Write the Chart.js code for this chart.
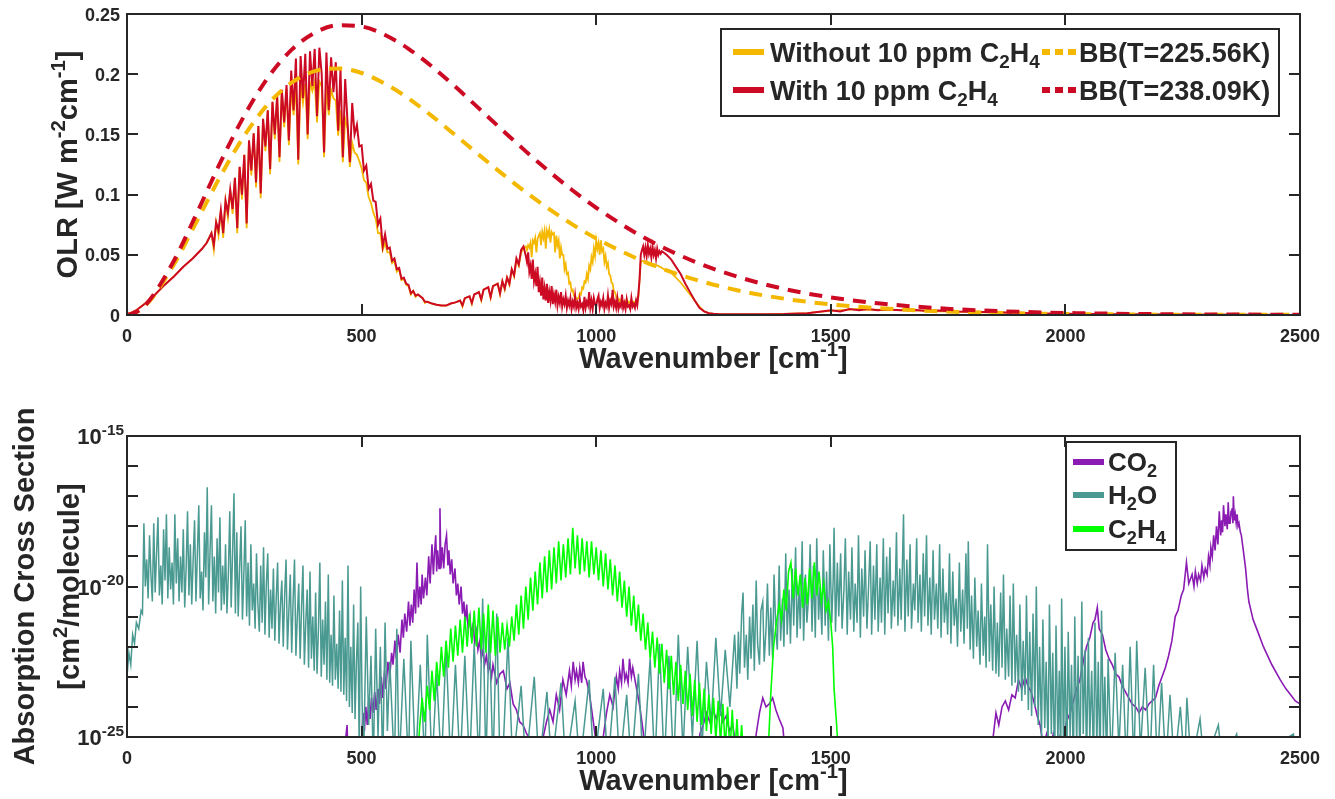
<!DOCTYPE html>
<html><head><meta charset="utf-8">
<script src="https://cdn.jsdelivr.net/npm/chart.js@4.4.1/dist/chart.umd.min.js"></script>
<style>
html,body{margin:0;padding:0;background:#fff;overflow:hidden}
#wrap{position:relative;width:1335px;height:799px;background:#fff}
canvas{position:absolute;left:0}
#c1{top:0}
#c2{top:400px}
</style></head><body>
<div id="wrap"><canvas id="c1" width="1335" height="400"></canvas><canvas id="c2" width="1335" height="399"></canvas></div>
<script>
// ---------------- DATA ----------------
const xTickValues = [0, 500, 1000, 1500, 2000, 2500];
const xTickLabels = ['0', '500', '1000', '1500', '2000', '2500'];
const olrTickValues = [0, 0.05, 0.1, 0.15, 0.2, 0.25];
const olrTickLabels = ['0', '0.05', '0.1', '0.15', '0.2', '0.25'];
const xsecDecades = [-25, -24, -23, -22, -21, -20, -19, -18, -17, -16, -15];
const xsecLabelExponents = [-25, -20, -15];

const topSeriesNames = ['Without 10 ppm C2H4', 'With 10 ppm C2H4', 'BB(T=225.56K)', 'BB(T=238.09K)'];
const bottomSeriesNames = ['CO2', 'H2O', 'C2H4'];

// Blackbody OLR: [wavenumber, BB 225.56 K, BB 238.09 K]
const blackbody = [
 [0,0,0],[25,.0034,.0036],[50,.0125,.0133],[100,.0419,.0451],[150,.0788,.0856],[200,.1159,.1275],
 [250,.1489,.1656],[300,.1749,.1970],[350,.1927,.2200],[400,.2025,.2344],[450,.2048,.2406],
 [500,.2010,.2396],[550,.1921,.2326],[600,.1799,.2211],[650,.1652,.2063],[700,.1493,.1895],
 [750,.1331,.1716],[800,.1172,.1536],[850,.1020,.1359],[900,.0879,.1191],[950,.0751,.1034],
 [1000,.0636,.0891],[1100,.0447,.0647],[1200,.0307,.0459],[1300,.0206,.0319],[1400,.0136,.0217],
 [1500,.0088,.0146],[1600,.0057,.0097],[1700,.0036,.0064],[1800,.0023,.0041],[1900,.0014,.0027],
 [2000,.0009,.0017],[2200,.0003,.0007],[2500,.0001,.0002]
];

// OLR spectra: [wavenumber, without C2H4, with C2H4]
const olrSpectra = [
 [0,0,0],[20,.004,.004],[40,.010,.010],[60,.017,.017],[80,.025,.025],[100,.032,.032],[120,.040,.040],
 [140,.047,.047],[160,.055,.055],[170,.060,.060],[175,.064,.064],[180,.068,.068],[185,.054,.058],
 [190,.077,.077],[195,.066,.070],[200,.087,.087],[205,.064,.068],[210,.095,.095],[215,.081,.085],
 [220,.104,.104],[225,.084,.088],[230,.114,.114],[235,.068,.072],[240,.123,.123],[245,.096,.100],
 [250,.133,.133],[255,.072,.076],[260,.145,.145],[265,.116,.120],[270,.151,.151],[275,.106,.110],
 [280,.157,.157],[285,.097,.101],[290,.163,.163],[295,.136,.140],[300,.170,.170],[305,.117,.121],
 [310,.177,.177],[315,.146,.150],[320,.182,.182],[325,.127,.131],[330,.186,.187],[335,.156,.160],
 [340,.188,.191],[345,.141,.145],[350,.189,.203],[355,.166,.170],[360,.191,.213],[365,.125,.129],
 [370,.192,.215],[375,.176,.180],[380,.192,.217],[385,.146,.150],[390,.193,.219],[395,.186,.190],
 [400,.194,.221],[405,.160,.165],[410,.194,.222],[415,.190,.200],[420,.131,.135],[425,.190,.218],
 [430,.166,.170],[435,.187,.214],[440,.180,.185],[445,.178,.210],[450,.149,.153],[455,.170,.204],
 [460,.127,.131],[465,.163,.196],[470,.155,.160],[475,.123,.127],[480,.143,.176],[485,.135,.150],
 [490,.133,.158],[495,.128,.140],[500,.122,.141],[505,.112,.120],[510,.110,.124],[515,.098,.105],
 [520,.093,.109],[525,.085,.095],[530,.080,.094],[535,.068,.075],[540,.068,.080],[545,.054,.057],
 [550,.060,.067],[555,.052,.055],[560,.052,.056],[565,.043,.045],[570,.045,.047],[575,.036,.038],
 [580,.038,.039],[585,.029,.030],[590,.030,.031],[595,.025,.026],[600,.024,.025],[605,.017,.018],
 [610,.020,.020],[615,.015,.016],[620,.017,.017],[630,.014,.014],[635,.010,.011],[640,.011,.011],
 [650,.0095,.0095],[660,.0085,.0085],[670,.0078,.0078],[680,.0078,.0078],[690,.0095,.0095],
 [700,.0105,.0105],[710,.012,.012],[715,.007,.008],[720,.014,.014],[730,.0155,.0155],[735,.009,.010],
 [740,.017,.017],[750,.019,.019],[755,.012,.013],[760,.021,.021],[770,.023,.023],[775,.014,.015],
 [780,.024,.024],[790,.026,.026],[795,.017,.018],[800,.028,.028],[805,.021,.022],[810,.031,.031],
 [815,.025,.026],[820,.038,.038],[825,.032,.033],[830,.046,.047],[835,.041,.042],[840,.052,.054],
 [845,.055,.057],
 [850,.057,.049],[852.5,.054,.044],[855,.058,.052],[857.5,.056,.036],[860,.060,.041],[862.5,.048,.030],
 [865,.062,.046],[867.5,.060,.028],[870,.064,.034],[872.5,.052,.024],[875,.063,.040],[877.5,.066,.019],
 [880,.068,.027],[882.5,.058,.016],[885,.069,.031],[887.5,.064,.013],[890,.070,.022],[892.5,.055,.012],
 [895,.070,.026],[897.5,.066,.010],[900,.071,.019],[902.5,.060,.012],[905,.069,.024],[907.5,.067,.009],
 [910,.068,.017],[912.5,.052,.011],[915,.066,.021],[917.5,.058,.008],[920,.062,.015],[922.5,.047,.010],
 [925,.056,.019],[927.5,.050,.007],[930,.050,.013],[932.5,.038,.009],[935,.042,.016],[937.5,.034,.006],
 [940,.035,.012],[942.5,.026,.008],[945,.027,.014],[947.5,.020,.005],[950,.021,.011],[952.5,.016,.007],
 [955,.016,.016],[957.5,.013,.006],[960,.014,.010],[962.5,.014,.005],[965,.018,.013],[967.5,.017,.007],
 [970,.023,.009],[972.5,.022,.004],[975,.028,.015],[977.5,.027,.006],[980,.034,.011],[982.5,.030,.008],
 [985,.041,.019],[987.5,.038,.006],[990,.048,.012],[992.5,.044,.005],[995,.055,.014],[997.5,.049,.009],
 [1000,.062,.007],[1002.5,.055,.013],[1005,.060,.016],[1007.5,.050,.006],[1010,.062,.011],[1012.5,.053,.008],
 [1015,.055,.014],[1017.5,.044,.005],[1020,.049,.010],[1022.5,.040,.007],[1025,.043,.016],[1027.5,.034,.006],
 [1030,.033,.012],[1032.5,.027,.009],[1035,.026,.021],[1037.5,.020,.007],[1040,.019,.011],[1042.5,.015,.006],
 [1045,.015,.014],[1047.5,.012,.005],[1050,.013,.009],[1052.5,.010,.007],[1055,.013,.017],[1057.5,.010,.006],
 [1060,.011,.010],[1062.5,.009,.005],[1065,.013,.013],[1067.5,.010,.007],[1070,.011,.008],[1072.5,.009,.005],
 [1075,.012,.014],[1077.5,.010,.007],[1080,.011,.009],[1082.5,.009,.006],[1085,.012,.012],[1087.5,.010,.008],
 [1090,.015,.018],[1092.5,.030,.030],[1095,.044,.050],[1097.5,.045,.054],[1100,.045,.057],[1102.5,.044,.050],
 [1105,.044,.056],[1107.5,.044,.049],[1110,.043,.058],[1112.5,.043,.051],[1115,.043,.055],[1117.5,.042,.048],
 [1120,.042,.057],[1122.5,.042,.050],[1125,.042,.054],[1127.5,.041,.047],[1130,.041,.055],[1132.5,.041,.050],
 [1135,.040,.053],[1137.5,.040,.051],[1140,.039,.053],
 [1150,.037,.050],[1160,.035,.046],[1170,.031,.040],[1180,.027,.034],[1190,.022,.026],[1200,.017,.019],
 [1210,.012,.012],[1220,.007,.006],[1230,.003,.003],[1240,.0015,.0015],[1250,.001,.001],
 [1260,.0008,.0008],[1300,.0006,.0006],[1350,.0006,.0006],[1400,.0009,.0008],[1450,.0016,.0015],
 [1480,.0028,.003],[1500,.0035,.004],[1520,.004,.003],[1540,.0045,.005],[1560,.005,.004],
 [1580,.0042,.005],[1600,.0045,.004],[1620,.004,.0045],[1650,.0042,.004],[1680,.0038,.0042],
 [1700,.0036,.0035],[1730,.003,.0038],[1760,.0028,.003],[1800,.0025,.0028],[1850,.002,.0022],
 [1900,.0016,.0018],[1950,.0012,.0012],[2000,.0009,.001],[2100,.0006,.0006],[2200,.0004,.0004],
 [2300,.0003,.0003],[2400,.0002,.0002],[2500,.0001,.0001]
];

// Absorption cross sections, [wavenumber, log10(cm^2/molecule)]
const co2LogXsec = [
 [460,-26],[469,-24.6],[472,-26],[495,-26],
 [500,-25.1],[503,-24.2],[506,-24.8],[509,-24.0],[512,-24.6],[515,-23.8],[518,-24.4],[521,-23.7],
 [524,-24.2],[528,-23.5],[531,-24.1],[535,-23.4],[538,-23.9],[542,-23.0],[545,-23.7],[549,-22.8],
 [552,-23.4],[556,-22.5],[560,-23.0],[564,-22.2],[567,-22.6],[571,-21.8],[574,-22.4],[578,-21.6],
 [582,-22.2],[586,-21.1],[589,-21.7],[592,-20.9],[596,-21.5],[600,-20.5],[603,-21.3],[606,-20.6],
 [609,-21.2],[612,-20.1],[615,-20.9],[618,-19.2],[621,-20.7],[624,-20.0],[627,-20.6],[629,-19.6],
 [632,-20.4],[636,-19.7],[639,-20.3],[643,-19.0],[646,-19.9],[650,-18.6],[653,-19.6],[655,-19.0],
 [658,-18.3],[660,-19.5],[662,-18.8],[665,-19.4],[667,-17.4],[669,-19.4],[672,-18.7],[675,-19.4],
 [678,-18.6],[681,-18.3],[684,-19.3],[686,-18.8],[689,-19.6],[692,-19.1],[695,-19.9],[699,-19.4],
 [702,-20.3],[705,-19.9],[708,-20.6],[712,-20.0],[715,-20.9],[718,-20.5],[721,-21.2],[724,-20.6],
 [727,-21.4],[731,-21.0],[734,-21.7],[738,-21.2],[741,-21.9],[745,-21.5],[748,-22.1],[752,-21.8],
 [755,-22.4],[759,-22.1],[762,-22.6],[766,-22.3],[770,-22.8],[773,-22.6],[777,-23.0],[780,-22.6],
 [788,-23.2],[795,-22.9],[802,-22.8],[810,-23.4],[816,-23.2],[823,-23.9],[830,-24.1],[837,-24.5],
 [844,-24.6],[852,-24.9],[865,-25.2],[880,-26],[887,-25.0],[894,-24.5],[901,-24.1],[908,-24.5],
 [915,-23.6],[922,-24.1],[929,-23.1],[936,-23.6],[943,-22.8],[947,-23.3],[951,-22.5],[955,-23.1],
 [958,-22.8],[962,-23.2],[965,-22.7],[969,-23.2],[972,-22.5],[976,-23.0],[979,-23.1],[986,-23.6],
 [993,-24.4],[1000,-25.2],[1007,-26],[1015,-25.0],[1022,-24.2],[1029,-23.6],[1036,-24.0],[1043,-23.0],
 [1047,-23.4],[1050,-22.8],[1054,-23.2],[1057,-22.4],[1061,-23.1],[1064,-22.9],[1068,-23.2],[1071,-22.4],
 [1075,-23.0],[1078,-22.7],[1085,-23.3],[1093,-24.0],[1100,-24.8],[1107,-26],[1215,-26],[1221,-24.9],
 [1228,-24.6],[1235,-24.2],[1242,-24.5],[1249,-24.1],[1256,-24.4],[1263,-24.0],[1270,-24.5],[1277,-24.3],
 [1284,-24.8],[1291,-24.6],[1298,-25.3],[1305,-26],[1335,-26],[1341,-24.9],[1348,-24.2],[1355,-23.7],
 [1362,-24.0],[1369,-23.9],[1376,-23.7],[1383,-24.1],[1390,-24.4],[1398,-24.7],[1405,-26],
 [1840,-26],[1846,-25.0],[1852,-24.2],[1858,-24.6],[1865,-24.0],[1872,-23.8],[1879,-24.1],[1886,-23.6],
 [1893,-23.7],[1900,-23.1],[1907,-23.4],[1914,-23.0],[1920,-23.3],[1927,-23.5],[1934,-23.9],
 [1940,-24.3],[1946,-24.6],[1953,-25.3],[1960,-24.9],[1967,-25.5],[1974,-24.9],[1981,-25.4],
 [1988,-25.0],[1995,-25.3],[2002,-24.5],[2010,-24.2],[2017,-23.8],[2024,-23.4],[2031,-23.1],
 [2038,-22.5],[2045,-22.0],[2052,-21.7],[2059,-21.2],[2063,-21.1],[2068,-20.7],[2072,-21.4],
 [2079,-21.6],[2086,-22.1],[2093,-22.4],[2100,-22.6],[2107,-22.9],[2114,-23.0],[2121,-23.3],
 [2128,-23.5],[2135,-23.7],[2142,-23.9],[2150,-24.0],[2157,-24.2],[2164,-24.0],[2171,-24.1],
 [2178,-23.9],[2185,-23.8],[2192,-23.7],[2199,-23.3],[2206,-23.0],[2213,-22.7],[2220,-22.3],
 [2227,-21.8],[2234,-21.0],[2240,-20.8],[2247,-20.3],[2252,-20.1],[2258,-19.2],[2263,-19.9],
 [2270,-19.6],[2274,-20.0],[2277,-19.5],[2281,-19.9],[2284,-19.6],[2288,-19.8],[2291,-19.3],
 [2295,-19.7],[2298,-19.4],[2302,-19.6],[2305,-19.0],[2308,-19.3],[2310,-18.7],[2313,-19.0],
 [2316,-18.3],[2319,-18.8],[2322,-18.0],[2325,-18.6],[2328,-17.5],[2331,-18.3],[2333,-17.8],
 [2335,-18.2],[2337,-17.3],[2340,-18.0],[2342,-17.6],[2345,-18.1],[2347,-17.2],[2349,-17.9],
 [2351,-17.9],[2353,-17.5],[2355,-17.4],[2357,-17.9],[2358,-17.0],[2360,-17.8],[2362,-17.6],
 [2364,-17.9],[2366,-17.6],[2368,-18.0],[2370,-17.9],[2373,-18.2],[2375,-18.3],[2380,-18.9],
 [2384,-19.4],[2388,-20.1],[2391,-20.5],[2400,-21.1],[2410,-21.5],[2422,-22.0],[2440,-22.6],
 [2458,-23.1],[2470,-23.4],[2480,-23.6],[2490,-23.8],[2500,-23.9]
];

const h2oLogXsec = [
 [0,-23.0],[4,-22.2],[8,-22.6],[12,-21.6],[16,-21.9],[20,-21.2],[25,-21.4],[30,-20.8],[33,-20.9],
 [36,-17.9],[39,-20.0],[42,-19.1],[45,-20.4],[48,-18.3],[51,-19.6],[54,-20.5],[57,-17.9],[60,-20.2],
 [63,-18.9],[66,-17.7],[69,-20.3],[72,-19.3],[75,-20.6],[78,-18.1],[81,-19.8],[84,-17.6],[87,-20.4],
 [90,-18.7],[93,-20.1],[96,-19.2],[99,-20.6],[102,-17.6],[105,-19.9],[108,-18.4],[111,-20.5],
 [114,-19.0],[117,-20.2],[120,-18.1],[123,-20.7],[126,-19.4],[129,-17.5],[132,-20.3],[135,-18.6],
 [138,-20.6],[141,-19.1],[144,-17.8],[147,-20.5],[150,-18.9],[153,-17.3],[156,-20.4],[159,-19.5],
 [162,-20.8],[165,-18.2],[168,-19.7],[171,-16.7],[174,-20.6],[177,-18.8],[180,-17.3],[183,-20.5],
 [186,-19.0],[189,-20.9],[192,-18.4],[195,-20.2],[198,-17.7],[201,-20.8],[204,-19.3],[207,-20.6],
 [210,-18.6],[213,-20.9],[216,-19.6],[219,-17.5],[222,-20.7],[225,-18.9],[228,-16.9],[231,-20.9],
 [234,-18.2],[237,-21.0],[240,-19.4],[243,-18.0],[246,-21.1],[249,-19.6],[252,-17.8],[255,-21.0],
 [258,-19.2],[261,-21.3],[264,-18.6],[267,-20.8],[270,-19.9],[273,-21.4],[276,-18.9],[279,-20.6],
 [282,-21.5],[285,-19.3],[288,-21.2],[291,-18.7],[294,-21.6],[297,-19.9],[300,-18.9],[303,-21.7],
 [306,-20.1],[309,-21.4],[312,-19.4],[315,-21.8],[318,-20.4],[321,-19.2],[324,-21.9],[327,-20.6],
 [330,-19.8],[333,-22.0],[336,-20.3],[339,-19.1],[342,-22.1],[345,-20.8],[348,-19.6],[351,-22.2],
 [354,-20.5],[357,-19.1],[360,-22.3],[363,-21.0],[366,-19.9],[369,-22.4],[372,-20.7],[375,-19.3],
 [378,-22.6],[381,-21.2],[384,-20.1],[387,-22.7],[390,-19.5],[393,-22.4],[396,-21.0],[399,-22.8],
 [402,-20.2],[405,-22.9],[408,-21.4],[411,-19.2],[414,-23.0],[417,-21.1],[420,-22.6],[423,-20.5],
 [426,-23.1],[429,-19.6],[432,-23.2],[435,-21.6],[438,-23.3],[441,-20.3],[444,-23.1],[447,-21.9],
 [450,-23.4],[453,-20.8],[456,-23.5],[459,-19.8],[462,-23.6],[465,-21.7],[468,-23.8],[471,-19.3],
 [474,-24.0],[477,-22.0],[480,-24.2],[483,-20.6],[486,-24.4],[489,-22.5],[492,-21.2],[495,-25.5],
 [498,-20.0],[501,-23.8],[504,-26],[510,-21.0],[515,-24.6],[520,-22.3],[525,-26],[530,-21.4],
 [535,-25.0],[540,-22.0],[545,-26],[550,-21.2],[555,-24.8],[560,-22.5],[570,-26],[575,-21.4],
 [580,-26],[590,-22.4],[600,-26],[605,-21.8],[615,-26],[625,-22.6],[635,-26],[640,-21.6],[650,-26],
 [660,-22.9],[670,-26],[680,-22.0],[690,-26],[700,-22.6],[710,-26],[720,-22.3],[730,-26],[740,-21.9],
 [750,-26],[758,-20.4],[765,-26],[772,-21.2],[780,-26],[788,-20.9],[795,-26],[800,-26],[812,-21.7],
 [822,-26],[840,-23.3],[850,-26],[868,-23.0],[878,-26],[895,-23.5],[905,-26],[925,-23.2],[935,-26],
 [955,-23.8],[965,-26],[985,-23.1],[995,-26],[1015,-23.4],[1025,-26],[1040,-23.0],[1050,-26],
 [1065,-23.6],[1075,-26],[1090,-22.9],[1100,-26],[1115,-22.4],[1125,-26],[1135,-21.9],[1145,-26],
 [1155,-22.3],[1165,-26],[1175,-21.6],[1185,-25.5],[1195,-22.0],[1205,-25.0],[1215,-21.8],
 [1225,-25.5],[1235,-22.5],[1245,-24.6],[1255,-21.7],[1265,-24.3],[1275,-22.1],[1285,-24.0],
 [1295,-21.6],
 [1300,-23.4],[1303,-21.5],[1306,-22.9],[1310,-20.9],[1313,-20.2],[1316,-22.7],[1320,-21.6],[1323,-23.1],
 [1327,-21.0],[1330,-22.4],[1334,-20.6],[1337,-22.8],[1341,-19.8],[1344,-21.9],[1348,-22.6],[1351,-20.8],
 [1355,-20.5],[1358,-22.5],[1362,-21.4],[1365,-19.9],[1369,-22.3],[1372,-20.7],[1376,-22.4],[1379,-19.6],
 [1383,-21.5],[1386,-22.1],[1390,-19.3],[1393,-21.8],[1397,-20.4],[1400,-22.0],[1404,-18.9],[1407,-21.6],
 [1411,-20.1],[1414,-21.9],[1418,-19.4],[1421,-21.3],[1425,-18.7],[1428,-21.7],[1432,-20.0],[1435,-21.4],
 [1439,-18.5],[1442,-21.8],[1446,-19.6],[1449,-21.2],[1453,-20.3],[1456,-18.6],[1460,-21.5],[1463,-19.3],
 [1467,-21.7],[1470,-18.4],[1474,-21.1],[1477,-20.0],[1481,-21.6],[1484,-18.8],[1488,-21.3],[1491,-19.5],
 [1495,-21.8],[1498,-18.6],[1502,-21.2],[1505,-19.8],[1507,-18.05],[1510,-21.5],[1514,-19.2],[1517,-21.0],
 [1521,-18.9],[1524,-21.4],[1528,-20.1],[1531,-18.4],[1535,-21.6],[1538,-19.5],[1542,-21.1],[1545,-18.7],
 [1549,-21.5],[1552,-19.9],[1556,-21.2],[1559,-18.3],[1563,-21.7],[1566,-19.4],[1570,-21.0],[1573,-18.8],
 [1577,-21.4],[1580,-20.2],[1584,-18.5],[1587,-21.6],[1591,-19.3],[1594,-21.1],[1598,-18.6],[1601,-21.5],
 [1605,-19.7],[1608,-21.2],[1612,-18.4],[1615,-21.6],[1619,-19.0],[1622,-20.9],[1626,-18.7],[1629,-21.4],
 [1633,-19.8],[1636,-21.0],[1640,-18.2],[1643,-21.3],[1647,-19.4],[1650,-21.1],[1655,-17.6],[1658,-21.5],
 [1662,-19.1],[1665,-21.0],[1669,-18.6],[1672,-21.4],[1676,-19.9],[1679,-20.8],[1683,-18.4],[1686,-21.2],
 [1690,-19.6],[1693,-21.5],[1697,-18.9],[1700,-21.0],[1704,-18.3],[1707,-21.3],[1711,-19.7],[1714,-21.6],
 [1718,-18.8],[1721,-21.1],[1725,-19.9],[1728,-21.4],[1732,-18.6],[1735,-21.7],[1739,-19.4],[1742,-21.2],
 [1746,-20.2],[1749,-21.6],[1753,-18.9],[1756,-21.9],[1760,-19.5],[1763,-21.3],[1767,-20.4],[1770,-22.0],
 [1774,-19.2],[1777,-21.5],[1781,-20.1],[1784,-21.9],[1788,-18.9],[1791,-21.4],[1793,-18.5],[1797,-22.1],
 [1800,-20.3],[1804,-22.4],[1807,-19.7],[1811,-22.0],[1814,-20.8],[1818,-22.6],[1821,-19.9],[1825,-22.3],
 [1828,-21.0],[1831,-22.7],[1834,-18.6],[1838,-22.5],[1841,-20.6],[1845,-22.8],[1848,-20.0],[1852,-22.9],
 [1855,-21.2],[1858,-23.0],[1862,-20.2],[1865,-22.7],[1868,-19.6],[1872,-23.1],[1875,-21.4],[1879,-23.0],
 [1882,-20.3],[1886,-23.3],[1889,-19.9],[1893,-23.2],[1896,-21.6],[1900,-23.5],[1903,-20.6],[1907,-23.8],
 [1910,-21.8],[1914,-23.6],[1917,-20.3],[1921,-24.1],[1924,-21.5],[1928,-24.3],[1931,-20.9],[1935,-24.0],
 [1938,-20.0],[1942,-24.6],[1945,-22.0],[1949,-25.0],[1952,-21.1],[1956,-24.7],[1959,-22.5],[1963,-25.4],
 [1966,-20.6],[1970,-24.9],[1973,-22.2],[1977,-26],[1980,-21.3],[1984,-25.2],[1987,-22.8],[1990,-26],
 [1992,-20.4],[1996,-25.5],[1999,-22.0],[2003,-26],[2006,-21.5],[2010,-25.0],[2013,-22.6],[2017,-26],
 [2020,-21.0],[2024,-25.3],[2027,-22.3],[2031,-26],[2035,-20.5],[2038,-24.9],[2042,-22.1],[2045,-26],
 [2049,-21.7],[2052,-25.1],[2056,-22.8],[2060,-26],[2063,-21.2],[2067,-25.4],[2070,-22.5],[2074,-26],
 [2077,-20.8],[2081,-25.0],[2084,-23.0],[2088,-26],[2091,-22.4],
 [2098,-26],[2106,-22.2],[2114,-25.4],[2122,-22.6],[2130,-26],[2138,-22.0],[2146,-26],
 [2152,-21.8],[2160,-25.5],[2170,-22.7],[2180,-26],[2188,-22.6],[2196,-26],[2205,-23.2],[2214,-26],
 [2223,-23.6],[2232,-26],[2245,-24.0],[2254,-26],[2259,-23.7],[2268,-26],[2287,-24.4],[2296,-26],
 [2326,-24.6],[2335,-26],[2365,-24.9],[2374,-26],[2486,-24.9],[2494,-26],[2500,-26]
];

const c2h4LogXsec = [
 [618,-26],[624,-24.6],[629,-23.7],[634,-24.5],[640,-23.3],[645,-24.1],[650,-22.8],[655,-23.8],
 [660,-22.5],[665,-23.3],[670,-22.0],[675,-23.0],[680,-21.8],[685,-22.7],[690,-21.4],[695,-22.5],
 [700,-21.3],[705,-22.3],[710,-21.1],[715,-22.2],[720,-21.0],[725,-22.0],[730,-20.9],[735,-21.9],
 [740,-20.8],[745,-22.0],[750,-20.7],[755,-22.1],[760,-20.9],[765,-22.2],[770,-20.6],[775,-22.2],
 [780,-20.8],[785,-22.3],[790,-21.0],[795,-22.2],[800,-21.2],[805,-22.1],[810,-21.3],[815,-22.0],
 [820,-21.0],[825,-21.8],[830,-20.6],[835,-21.6],[840,-20.3],[845,-21.4],[850,-20.0],[855,-21.1],
 [860,-19.7],[865,-20.8],[870,-19.5],[875,-20.6],[880,-19.2],[885,-20.4],[890,-19.0],[895,-20.2],
 [900,-18.8],[905,-20.1],[910,-18.7],[915,-19.9],[920,-18.5],[925,-19.8],[930,-18.6],[935,-19.7],
 [940,-18.4],[945,-19.6],[950,-18.05],[955,-19.4],[960,-18.3],[965,-19.6],[970,-18.4],[975,-19.5],
 [980,-18.5],[985,-19.7],[990,-18.5],[995,-19.6],[1000,-18.7],[1005,-19.8],[1010,-18.8],[1015,-20.0],
 [1020,-18.9],[1025,-20.1],[1030,-19.1],[1035,-20.3],[1040,-19.3],[1045,-20.5],[1050,-19.5],
 [1055,-20.7],[1060,-19.8],[1065,-21.0],[1070,-20.0],[1075,-21.3],[1080,-20.3],[1085,-21.5],
 [1090,-20.6],[1095,-21.8],[1100,-20.9],[1105,-22.1],[1110,-21.2],[1115,-22.4],[1120,-21.5],
 [1125,-22.7],[1130,-21.7],[1135,-22.9],[1140,-21.9],[1145,-23.2],[1150,-22.1],[1155,-23.4],
 [1160,-22.3],[1165,-23.6],[1170,-22.5],[1175,-23.8],[1180,-22.6],[1185,-23.9],[1190,-22.8],
 [1195,-24.1],[1200,-22.9],[1205,-24.3],[1210,-23.1],[1215,-24.5],[1220,-23.2],[1225,-24.6],
 [1230,-23.4],[1235,-24.8],[1240,-23.6],[1245,-24.9],[1250,-23.7],[1255,-25.1],[1260,-23.8],
 [1265,-25.2],[1270,-23.9],[1275,-25.4],[1280,-24.0],[1285,-25.5],[1290,-24.1],[1295,-25.7],
 [1300,-24.4],[1305,-25.8],[1310,-24.6],[1315,-26],[1320,-25.0],[1325,-26],[1365,-26],
 [1372,-23.6],[1378,-22.0],[1384,-21.2],[1390,-20.6],[1395,-21.1],[1400,-20.1],[1405,-20.8],
 [1410,-19.5],[1415,-19.2],[1420,-20.4],[1425,-19.4],[1430,-20.3],[1435,-19.6],[1440,-20.7],
 [1445,-19.7],[1450,-20.6],[1455,-19.4],[1460,-20.4],[1465,-19.2],[1470,-20.3],[1475,-19.5],
 [1480,-20.5],[1485,-19.9],[1490,-20.8],[1495,-20.5],[1500,-21.2],[1504,-22.0],[1507,-23.4],
 [1512,-24.5],[1518,-26]
];

// ---------------- STYLE / HELPERS ----------------
const INK = '#262626';
const YELLOW = '#F4B800', RED = '#CC0A24', PURPLE = '#8A1BB3', TEAL = '#4A9A92', GREEN = '#00FF00';
const FAM = '"Liberation Sans", Arimo, Arial, Helvetica, sans-serif';
const font = s => `bold ${s}px ${FAM}`;

function richWidth(ctx, segs, size) {
  let w = 0;
  for (const [t, k] of segs) { ctx.font = font(k ? size * 0.7 : size); w += ctx.measureText(t).width; }
  return w;
}
function drawRich(ctx, segs, x, y, size, align) {
  const w = richWidth(ctx, segs, size);
  let cx = align === 'center' ? x - w / 2 : align === 'right' ? x - w : x;
  ctx.textAlign = 'left'; ctx.textBaseline = 'alphabetic';
  for (const [t, k] of segs) {
    const s = k ? size * 0.7 : size;
    ctx.font = font(s);
    const dy = k === '^' ? -size * 0.42 : k === '_' ? size * 0.24 : 0;
    ctx.fillText(t, cx, y + dy);
    cx += ctx.measureText(t).width;
  }
}

const matlabAxes = {
  id: 'matlabAxes',
  afterDatasetsDraw(chart, args, o) {
    const ctx = chart.ctx, a = chart.chartArea;
    const xs = chart.scales.x, ys = chart.scales.y;
    const TL = 11;
    ctx.save();
    ctx.strokeStyle = INK; ctx.fillStyle = INK; ctx.lineWidth = 2; ctx.lineCap = 'butt';
    ctx.beginPath();
    for (const v of o.xTicks) {
      const px = Math.round(xs.getPixelForValue(v));
      ctx.moveTo(px, a.bottom); ctx.lineTo(px, a.bottom - TL);
      ctx.moveTo(px, a.top); ctx.lineTo(px, a.top + TL);
    }
    for (const v of o.yTicks) {
      const py = Math.round(ys.getPixelForValue(v));
      ctx.moveTo(a.left, py); ctx.lineTo(a.left + TL, py);
      ctx.moveTo(a.right, py); ctx.lineTo(a.right - TL, py);
    }
    ctx.stroke();
    ctx.strokeRect(a.left, a.top, a.right - a.left, a.bottom - a.top);

    o.xTicks.forEach((v, i) => {
      drawRich(ctx, [[o.xLabels[i], '']], xs.getPixelForValue(v), a.bottom + 27, 18, 'center');
    });
    o.yLabelTicks.forEach((v, i) => {
      drawRich(ctx, o.yLabels[i], o.yLabelRight, ys.getPixelForValue(v) + o.yLabelDy, o.yLabelSize, 'right');
    });
    drawRich(ctx, o.xTitle, (a.left + a.right) / 2, a.bottom + 53, 29, 'center');
    const cy = (a.top + a.bottom) / 2;
    o.yTitle.forEach((segs, i) => {
      ctx.save();
      ctx.translate(o.yTitleX[i], cy);
      ctx.rotate(-Math.PI / 2);
      drawRich(ctx, segs, 0, 0, 29, 'center');
      ctx.restore();
    });
    const L = o.legend;
    ctx.fillStyle = '#fff';
    ctx.fillRect(L.box[0], L.box[1], L.box[2], L.box[3]);
    ctx.lineWidth = 2; ctx.strokeStyle = INK;
    ctx.strokeRect(L.box[0], L.box[1], L.box[2], L.box[3]);
    for (const it of L.items) {
      ctx.strokeStyle = it.color; ctx.lineWidth = it.lw;
      ctx.setLineDash(it.dash || []);
      ctx.beginPath(); ctx.moveTo(it.x0, it.y); ctx.lineTo(it.x1, it.y); ctx.stroke();
      ctx.setLineDash([]);
      ctx.fillStyle = INK;
      drawRich(ctx, it.segs, it.tx, it.y + L.baseOff, L.size, 'left');
    }
    ctx.restore();
  }
};

function xyFrom(rows, col) { return rows.map(r => ({ x: r[0], y: r[col] })); }
function xyLog(rows) { return rows.map(r => ({ x: r[0], y: Math.pow(10, r[1]) })); }

function makeOptions(cfg) {
  return {
    responsive: false, animation: false, devicePixelRatio: 1,
    events: [],
    layout: { padding: { left: 0, right: 35, top: cfg.top, bottom: 0 } },
    plugins: { legend: { display: false }, tooltip: { enabled: false }, matlabAxes: cfg.axes },
    elements: { point: { radius: 0 } },
    scales: {
      x: { type: 'linear', min: 0, max: 2500, grid: { display: false, drawTicks: false }, border: { display: false },
           ticks: { display: false }, afterFit(s) { s.height = cfg.xh; } },
      y: { type: cfg.ytype, min: cfg.ymin, max: cfg.ymax, grid: { display: false, drawTicks: false }, border: { display: false },
           ticks: { display: false }, afterFit(s) { s.width = 127; } }
    }
  };
}

// ---------------- TOP CHART ----------------
const subC2H4 = (pre) => [[pre + ' C', ''], ['2', '_'], ['H', ''], ['4', '_']];
new Chart(document.getElementById('c1'), {
  type: 'line',
  data: {
    datasets: [
      { label: topSeriesNames[2], data: xyFrom(blackbody, 1), borderColor: YELLOW, borderWidth: 4, borderDash: [13, 9],
        cubicInterpolationMode: 'monotone', order: 1 },
      { label: topSeriesNames[3], data: xyFrom(blackbody, 2), borderColor: RED, borderWidth: 4, borderDash: [13, 9],
        cubicInterpolationMode: 'monotone', order: 0 },
      { label: topSeriesNames[1], data: xyFrom(olrSpectra, 2), borderColor: RED, borderWidth: 2, tension: 0, order: 2 },
      { label: topSeriesNames[0], data: xyFrom(olrSpectra, 1), borderColor: YELLOW, borderWidth: 1.8, tension: 0, order: 3 }
    ]
  },
  options: makeOptions({
    top: 14, xh: 400 - 315, ytype: 'linear', ymin: 0, ymax: 0.25,
    axes: {
      xTicks: xTickValues, xLabels: xTickLabels,
      yTicks: olrTickValues, yLabelTicks: olrTickValues,
      yLabels: olrTickLabels.map(t => [[t, '']]), yLabelRight: 120, yLabelSize: 18, yLabelDy: 6.5,
      xTitle: [['Wavenumber [cm', ''], ['-1', '^'], [']', '']],
      yTitle: [[['OLR [W m', ''], ['-2', '^'], ['cm', ''], ['-1', '^'], [']', '']]],
      yTitleX: [77],
      legend: {
        box: [721, 29, 558, 87], size: 27, baseOff: 9.5,
        items: [
          { color: YELLOW, lw: 6, x0: 733, x1: 764, y: 52, tx: 770, segs: subC2H4('Without 10 ppm') },
          { color: RED, lw: 6, x0: 733, x1: 764, y: 90, tx: 770, segs: subC2H4('With 10 ppm') },
          { color: YELLOW, lw: 6, dash: [8, 5], x0: 1042, x1: 1076, y: 52, tx: 1079, segs: [['BB(T=225.56K)', '']] },
          { color: RED, lw: 6, dash: [8, 5], x0: 1042, x1: 1076, y: 90, tx: 1079, segs: [['BB(T=238.09K)', '']] }
        ]
      }
    }
  }),
  plugins: [matlabAxes]
});

// ---------------- BOTTOM CHART ----------------
new Chart(document.getElementById('c2'), {
  type: 'line',
  data: {
    datasets: [
      { label: bottomSeriesNames[2], data: xyLog(c2h4LogXsec), borderColor: GREEN, borderWidth: 1.6, tension: 0, order: 0 },
      { label: bottomSeriesNames[1], data: xyLog(h2oLogXsec), borderColor: TEAL, borderWidth: 1.5, tension: 0, order: 1 },
      { label: bottomSeriesNames[0], data: xyLog(co2LogXsec), borderColor: PURPLE, borderWidth: 1.6, tension: 0, order: 2 }
    ]
  },
  options: makeOptions({
    top: 36, xh: 399 - 337, ytype: 'logarithmic', ymin: 1e-25, ymax: 1e-15,
    axes: {
      xTicks: xTickValues, xLabels: xTickLabels,
      yTicks: xsecDecades.map(e => Math.pow(10, e)),
      yLabelTicks: xsecLabelExponents.map(e => Math.pow(10, e)),
      yLabels: xsecLabelExponents.map(e => [['10', ''], [String(e), '^']]), yLabelRight: 124, yLabelSize: 22, yLabelDy: 8,
      xTitle: [['Wavenumber [cm', ''], ['-1', '^'], [']', '']],
      yTitle: [[['Absorption Cross Section', '']], [['[cm', ''], ['2', '^'], ['/molecule]', '']]],
      yTitleX: [34, 79],
      legend: {
        box: [1066, 42, 110, 108], size: 26, baseOff: 9,
        items: [
          { color: PURPLE, lw: 6, x0: 1073, x1: 1104, y: 62, tx: 1108, segs: [['CO', ''], ['2', '_']] },
          { color: TEAL, lw: 6, x0: 1073, x1: 1104, y: 95, tx: 1108, segs: [['H', ''], ['2', '_'], ['O', '']] },
          { color: GREEN, lw: 6, x0: 1073, x1: 1104, y: 129, tx: 1108, segs: [['C', ''], ['2', '_'], ['H', ''], ['4', '_']] }
        ]
      }
    }
  }),
  plugins: [matlabAxes]
});
</script>
</body></html>
